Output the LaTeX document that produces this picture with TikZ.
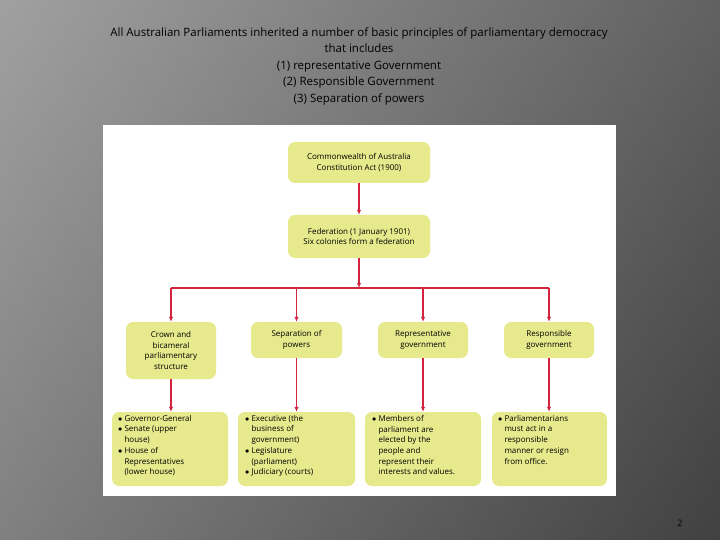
\documentclass[tikz,border=0pt]{standalone}
\usepackage{fontspec}
\setmainfont{Open Sans}
\usetikzlibrary{arrows.meta}
\definecolor{boxy}{HTML}{E6EA8C}
\definecolor{arred}{HTML}{D2233F}
\begin{document}
\begin{tikzpicture}[x=1pt,y=-1pt,
  box/.style={fill=boxy,rounded corners=7pt,align=center,font=\fontsize{8}{10.5}\selectfont,inner sep=0pt},
  arr/.style={draw=arred,line width=1.1pt,-{Latex[length=5pt,width=4.5pt]}},
  ln/.style={draw=arred,line width=1.1pt},
  bl/.style={align=left,font=\fontsize{8}{10.7}\selectfont,anchor=north west,inner sep=0pt}]
\shade[top color=black!55, bottom color=black!78] (0,0) rectangle (720,540);
\shade[left color=white!70!gray, right color=black!70, opacity=0.45] (0,0) rectangle (720,540);
\useasboundingbox (0,0) rectangle (720,540);
\node[font=\fontsize{11.5}{16.5}\selectfont,align=center,anchor=north] (title) at (359,24)
 {All Australian Parliaments inherited a number of basic principles of parliamentary democracy\\ that includes\\(1) representative Government\\(2) Responsible Government\\(3) Separation of powers};
\fill[white] (103,125) rectangle (616,496);
\node[box,minimum width=142pt,minimum height=41pt] (a) at (359,162.5) {Commonwealth of Australia\\Constitution Act (1900)};
\node[box,minimum width=142pt,minimum height=43pt] (b) at (359,236.5) {Federation (1 January 1901)\\Six colonies form a federation};
\node[box,minimum width=90pt,minimum height=57pt] (c1) at (171,350.5) {Crown and\\bicameral\\parliamentary\\structure};
\node[box,minimum width=91pt,minimum height=36pt] (c2) at (296.5,340) {Separation of\\powers};
\node[box,minimum width=90pt,minimum height=36pt] (c3) at (423,340) {Representative\\government};
\node[box,minimum width=90pt,minimum height=36pt] (c4) at (549,340) {Responsible\\government};
\node[box,minimum width=116pt,minimum height=74pt] (d1) at (170,449) {};
\node[box,minimum width=117pt,minimum height=74pt] (d2) at (296.5,449) {};
\node[box,minimum width=116pt,minimum height=74pt] (d3) at (423,449) {};
\node[box,minimum width=115pt,minimum height=74pt] (d4) at (549.5,449) {};
\node[bl] (t1) at (118,415) {$\bullet$\ Governor-General\\$\bullet$\ Senate (upper\\\phantom{$\bullet$\ }house)\\$\bullet$\ House of\\\phantom{$\bullet$\ }Representatives\\\phantom{$\bullet$\ }(lower house)};
\node[bl] (t2) at (245,415) {$\bullet$\ Executive (the\\\phantom{$\bullet$\ }business of\\\phantom{$\bullet$\ }government)\\$\bullet$\ Legislature\\\phantom{$\bullet$\ }(parliament)\\$\bullet$\ Judiciary (courts)};
\node[bl] (t3) at (372,415) {$\bullet$\ Members of\\\phantom{$\bullet$\ }parliament are\\\phantom{$\bullet$\ }elected by the\\\phantom{$\bullet$\ }people and\\\phantom{$\bullet$\ }represent their\\\phantom{$\bullet$\ }interests and values.};
\node[bl] (t4) at (498,415) {$\bullet$\ Parliamentarians\\\phantom{$\bullet$\ }must act in a\\\phantom{$\bullet$\ }responsible\\\phantom{$\bullet$\ }manner or resign\\\phantom{$\bullet$\ }from office.};
\coordinate (j) at (359,288);
\draw[arr] (a) -- (b);
\draw[arr] (b) -- (j);
\draw[ln] (c1.north |- j) -- (c4.north |- j);
\foreach \n in {c1,c2,c3,c4} \draw[arr] (\n.north |- j) -- (\n.north);
\draw[arr] (c1) -- (c1 |- d1.north);
\draw[arr] (c2) -- (c2 |- d2.north);
\draw[arr] (c3) -- (c3 |- d3.north);
\draw[arr] (c4) -- (c4 |- d4.north);
\node[font=\fontsize{9}{11}\selectfont] (pg) at (680,523) {2};
\end{tikzpicture}
\end{document}
